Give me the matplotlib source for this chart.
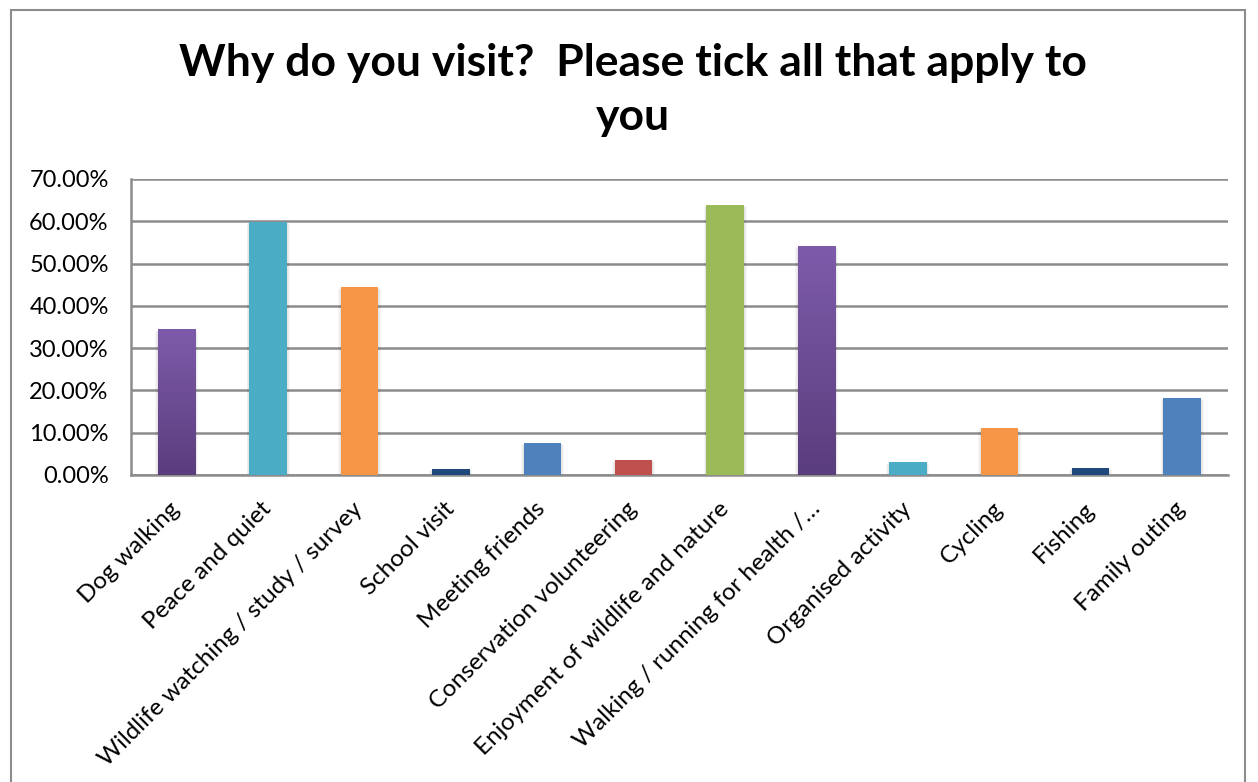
import numpy as np
import matplotlib.pyplot as plt
import matplotlib.colors as mcolors
from matplotlib.patches import Rectangle

plt.rcParams['font.family'] = ['Lato', 'DejaVu Sans']

categories = ['Dog walking', 'Peace and quiet', 'Wildlife watching / study / survey',
              'School visit', 'Meeting friends', 'Conservation volunteering',
              'Enjoyment of wildlife and nature', 'Walking / running for health /…',
              'Organised activity', 'Cycling', 'Fishing', 'Family outing']
values = [34.3, 59.8, 44.4, 1.4, 7.6, 3.5, 63.8, 54.1, 3.1, 11.1, 1.6, 18.2]
colors = ['#7D5BA6', '#4BACC6', '#F79646', '#1F497D', '#4F81BD', '#C0504D',
          '#9BBB59', '#7D5BA6', '#4BACC6', '#F79646', '#1F497D', '#4F81BD']
gradient = [True, False, False, False, False, False,
            False, True, False, False, False, False]

fig = plt.figure(figsize=(12.58, 7.82), dpi=100)
ax = fig.add_axes([0.1041, 0.3926, 0.8719, 0.3785])

# outer chart frame
fig.patches.append(Rectangle((0.0085, -0.05), 0.981, 1.037, transform=fig.transFigure,
                             fill=False, edgecolor='#8c8c8c', linewidth=1.5))

x = np.arange(len(categories))
width = 0.41
bars = ax.bar(x, values, width=width, color=colors, zorder=3)

# soft shadow under each bar
for xi, v in zip(x, values):
    for k in range(4):
        ax.add_patch(Rectangle((xi - width / 2 - 0.01 * k, -0.15 - 0.12 * k),
                               width + 0.02 * k, v + 0.1, facecolor='black',
                               alpha=0.035, edgecolor='none', zorder=2))

# purple bars fade from light at the top to dark at the bottom
cmap = mcolors.LinearSegmentedColormap.from_list('purp', ['#5A3D7D', '#7E5BAA'])
for b, g in zip(bars, gradient):
    if g:
        b.set_facecolor('none')
        x0, w, h = b.get_x(), b.get_width(), b.get_height()
        grad = np.linspace(0, 1, 256).reshape(-1, 1)
        ax.imshow(grad, cmap=cmap, origin='lower', aspect='auto',
                  extent=[x0, x0 + w, 0, h], zorder=3)

ax.set_xlim(-0.5, len(categories) - 0.5)
ax.set_ylim(0, 70)
ax.set_yticks(np.arange(0, 71, 10))
ax.set_yticklabels([f'{t:.2f}%' for t in np.arange(0, 71, 10)], fontsize=17)
ax.set_xticks(x)
ax.set_xticklabels(categories, rotation=45, ha='right', va='center',
                   rotation_mode='anchor', fontsize=17.5)
ax.tick_params(axis='x', length=0, pad=22)
ax.tick_params(axis='y', length=0, pad=16)

ax.grid(axis='y', color='#8c8c8c', linewidth=1.8, zorder=0)
for s in ['top', 'right']:
    ax.spines[s].set_visible(False)
ax.spines['left'].set_color('#8c8c8c')
ax.spines['left'].set_linewidth(1.8)
ax.spines['bottom'].set_color('#8c8c8c')
ax.spines['bottom'].set_linewidth(1.8)

fig.text(0.503, 0.885, 'Why do you visit?  Please tick all that apply to\nyou',
         ha='center', va='center', fontsize=32, fontweight='bold', linespacing=1.4)

fig.savefig('out.png', dpi=100)
